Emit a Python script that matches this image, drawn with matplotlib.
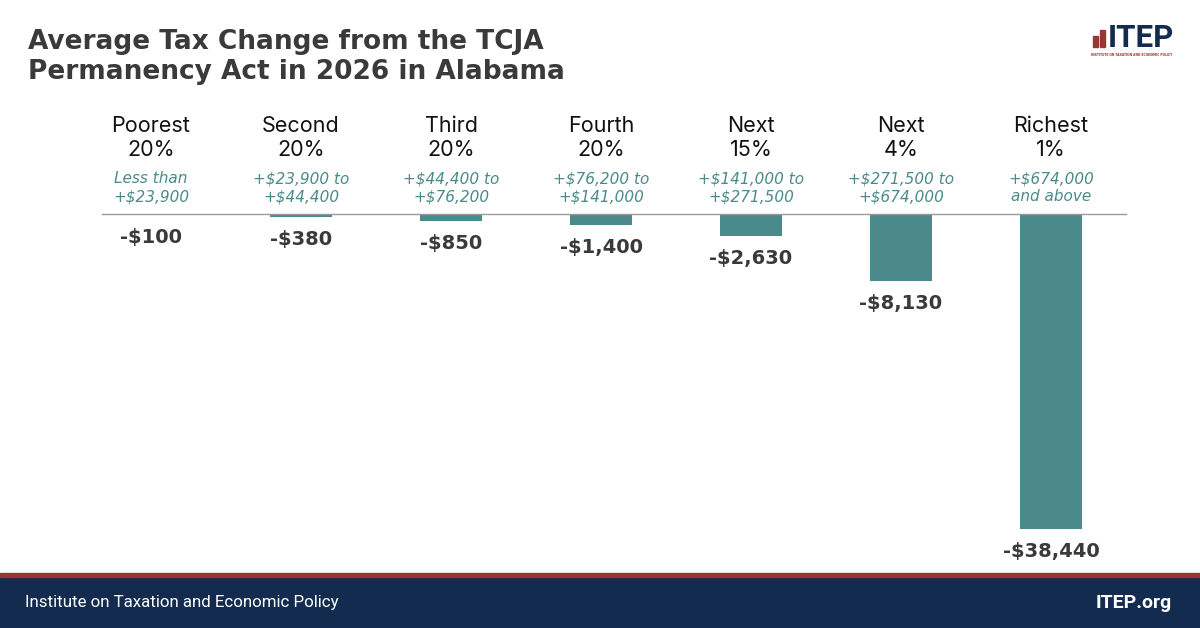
import matplotlib
matplotlib.use("Agg")
import matplotlib.pyplot as plt
from matplotlib.patches import Rectangle
from matplotlib.transforms import blended_transform_factory

groups = ["Poorest\n20%", "Second\n20%", "Third\n20%", "Fourth\n20%",
          "Next\n15%", "Next\n4%", "Richest\n1%"]
ranges = ["Less than\n+$23,900", "+$23,900 to\n+$44,400", "+$44,400 to\n+$76,200",
          "+$76,200 to\n+$141,000", "+$141,000 to\n+$271,500",
          "+$271,500 to\n+$674,000", "+$674,000\nand above"]
values = [-100, -380, -850, -1400, -2630, -8130, -38440]
value_labels = ["-$100", "-$380", "-$850", "-$1,400", "-$2,630", "-$8,130", "-$38,440"]

W, H = 1200, 628
TEAL = "#4a8a8a"
NAVY = "#132b4f"
RED = "#9c3434"
DARK = "#3a3a3a"

fig = plt.figure(figsize=(12, 6.28), dpi=100)
fig.patch.set_facecolor("white")

def px(x0, y0, w, h):
    return [x0 / W, 1 - (y0 + h) / H, w / W, h / H]

ax = fig.add_axes(px(102, 214, 1024, 328))
ax.set_xlim(-0.327, 6.5)
ax.set_ylim(-40000, 0)
ax.axis("off")

xs = list(range(len(values)))
ax.bar(xs, values, width=0.41, color=TEAL, zorder=2)
ax.axhline(0, color="#9a9a9a", lw=1.0, zorder=3, clip_on=False)

for x, v, lab in zip(xs, values, value_labels):
    ax.annotate(lab, (x, v), xytext=(0, -13), textcoords="offset pixels",
                ha="center", va="top", fontsize=14, fontweight="bold",
                color=DARK, family="DejaVu Sans")

tr = blended_transform_factory(ax.transData, fig.transFigure)
for x, g, r in zip(xs, groups, ranges):
    ax.text(x, 1 - 138 / H, g, transform=tr, ha="center", va="center",
            fontsize=15.5, color="#111111", family="Inter", linespacing=1.2)
    ax.text(x, 1 - 188 / H, r, transform=tr, ha="center", va="center",
            fontsize=11, color=TEAL, family="DejaVu Sans", style="italic",
            linespacing=1.25)

# Title
fig.text(28 / W, 1 - 57 / H, "Average Tax Change from the TCJA\nPermanency Act in 2026 in Alabama",
         ha="left", va="center", fontsize=19, fontweight="bold", color=DARK,
         family="DejaVu Sans", linespacing=1.22)

# Logo
for (bx, btop) in [(1093, 36), (1100, 30)]:
    fig.patches.append(Rectangle((bx / W, 1 - 47 / H), 4.5 / W, (47 - btop) / H,
                                 transform=fig.transFigure, color=RED))
fig.text(1108 / W, 1 - 47 / H, "ITEP", ha="left", va="baseline", fontsize=22.5,
         fontweight="bold", color=NAVY, family="Roboto")
fig.text(1132 / W, 1 - 55.5 / H, "INSTITUTE ON TAXATION AND ECONOMIC POLICY",
         ha="center", va="center", fontsize=2.2, color=RED, fontweight="bold")

# Footer
fig.patches.append(Rectangle((0, 0), 1, 51 / H, transform=fig.transFigure,
                             color=NAVY, zorder=0))
fig.patches.append(Rectangle((0, 51 / H), 1, 4 / H, transform=fig.transFigure,
                             color=RED, zorder=0))
fig.text(25 / W, 1 - 603 / H, "Institute on Taxation and Economic Policy",
         ha="left", va="center", fontsize=12.2, color="white", family="Roboto")
fig.text(1172 / W, 1 - 603 / H, "ITEP.org", ha="right", va="center",
         fontsize=14, color="white", fontweight="bold", family="Roboto")

fig.savefig("out.png", dpi=100, facecolor="white")
